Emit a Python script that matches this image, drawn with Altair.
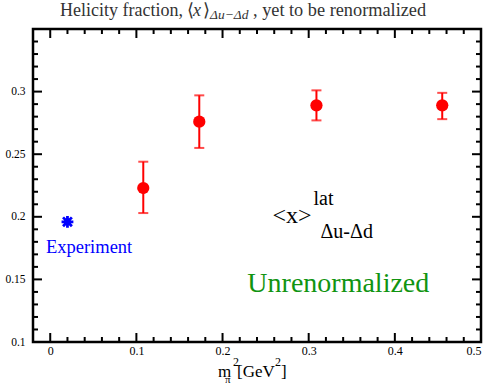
import altair as alt
import pandas as pd

# Lattice results: pion mass squared [GeV^2], central value and error-bar ends
m_pi_sq = [0.108, 0.173, 0.309, 0.455]
x_lat = [0.223, 0.276, 0.289, 0.289]
x_lo = [0.203, 0.255, 0.277, 0.278]
x_hi = [0.244, 0.297, 0.301, 0.299]

# Experimental value
exp_m_pi_sq = [0.02]
exp_x = [0.196]

# Axis ranges, labels and tick positions
x_domain = [-0.02, 0.5]
y_domain = [0.1, 0.35]
x_labels = [0, 0.1, 0.2, 0.3, 0.4, 0.5]
y_labels = [0.1, 0.15, 0.2, 0.25, 0.3]
x_major = [0, 0.1, 0.2, 0.3, 0.4, 0.5]
x_minor = [0.02, 0.04, 0.06, 0.08, 0.12, 0.14, 0.16, 0.18, 0.22, 0.24, 0.26,
           0.28, 0.32, 0.34, 0.36, 0.38, 0.42, 0.44, 0.46, 0.48]
y_major = [0.15, 0.2, 0.25, 0.3]
y_minor = [0.11, 0.12, 0.13, 0.14, 0.16, 0.17, 0.18, 0.19, 0.21, 0.22, 0.23,
           0.24, 0.26, 0.27, 0.28, 0.29, 0.31, 0.32, 0.33, 0.34]

W, H = 448, 313
SERIF = "Liberation Serif"

lat = pd.DataFrame({"m": m_pi_sq, "x": x_lat, "lo": x_lo, "hi": x_hi})
exp = pd.DataFrame({"m": exp_m_pi_sq, "x": exp_x})

xs = alt.Scale(domain=x_domain, nice=False, zero=False)
ys = alt.Scale(domain=y_domain, nice=False, zero=False)

x_axis = alt.Axis(values=x_labels, labelFontSize=12, labelPadding=3, title=None,
                  labelFont=SERIF, labelColor="black",
                  ticks=False, domain=False, grid=False,
                  labelExpr="datum.value == 0 ? '0' : format(datum.value, '.1~f')")
y_axis = alt.Axis(values=y_labels, labelFontSize=11.5, labelPadding=8, title=None,
                  labelFont=SERIF, labelColor="black",
                  ticks=False, domain=False, grid=False,
                  labelExpr="format(datum.value, '~g')")

err = alt.Chart(lat).mark_rule(color="red", strokeWidth=2).encode(
    x=alt.X("m:Q", scale=xs, axis=x_axis),
    y=alt.Y("lo:Q", scale=ys, axis=y_axis),
    y2="hi:Q")
cap_hi = alt.Chart(lat).mark_tick(color="red", orient="horizontal", size=10, thickness=2).encode(
    x=alt.X("m:Q", scale=xs), y=alt.Y("hi:Q", scale=ys))
cap_lo = alt.Chart(lat).mark_tick(color="red", orient="horizontal", size=10, thickness=2).encode(
    x=alt.X("m:Q", scale=xs), y=alt.Y("lo:Q", scale=ys))
pts = alt.Chart(lat).mark_circle(color="red", size=150, opacity=1).encode(
    x=alt.X("m:Q", scale=xs), y=alt.Y("x:Q", scale=ys))

star_path = "M0,-1L0,1M-1,0L1,0M-0.75,-0.75L0.75,0.75M-0.75,0.75L0.75,-0.75"
star = alt.Chart(exp).mark_point(shape=star_path, size=140, strokeWidth=2.8,
                                 filled=False, color="blue", opacity=1).encode(
    x=alt.X("m:Q", scale=xs), y=alt.Y("x:Q", scale=ys))


def ticks_x(vals, length, top):
    df = pd.DataFrame({"v": vals})
    y0, y1 = (0, length) if top else (H, H - length)
    return alt.Chart(df).mark_rule(color="black", strokeWidth=2).encode(
        x=alt.X("v:Q", scale=xs), y=alt.value(y0), y2=alt.value(y1))


def ticks_y(vals, length, right):
    df = pd.DataFrame({"v": vals})
    x0, x1 = (W, W - length) if right else (0, length)
    return alt.Chart(df).mark_rule(color="black", strokeWidth=2).encode(
        y=alt.Y("v:Q", scale=ys), x=alt.value(x0), x2=alt.value(x1))


tick_layers = [
    ticks_x(x_major, 9, False), ticks_x(x_minor, 5, False),
    ticks_x(x_major, 9, True), ticks_x(x_minor, 5, True),
    ticks_y(y_major, 9, False), ticks_y(y_minor, 5, False),
    ticks_y(y_major, 9, True), ticks_y(y_minor, 5, True),
]


def label_data(text, m, x, size, color="black", align="left", italic=False):
    df = pd.DataFrame({"m": [m], "x": [x], "t": [text]})
    kw = {"fontStyle": "italic"} if italic else {}
    return alt.Chart(df).mark_text(font=SERIF, fontSize=size, color=color, align=align,
                                   baseline="alphabetic", **kw).encode(
        x=alt.X("m:Q", scale=xs), y=alt.Y("x:Q", scale=ys), text="t:N")


def label_px(text, px, py, size, color="black", align="left", italic=False):
    df = pd.DataFrame({"t": [text]})
    kw = {"fontStyle": "italic"} if italic else {}
    return alt.Chart(df).mark_text(font=SERIF, fontSize=size, color=color, align=align,
                                   baseline="alphabetic", **kw).encode(
        x=alt.value(px), y=alt.value(py), text="t:N")


annotations = [
    label_data("Experiment", -0.005, 0.171, 18.5, color="blue"),
    label_data("<x>", 0.258, 0.195, 24),
    label_data("lat", 0.3056, 0.2093, 20),
    label_data("Δu-Δd", 0.3137, 0.1829, 20),
    label_data("Unrenormalized", 0.2288, 0.1399, 28, color="#119411"),
]

# x-axis title m_π^2 [GeV^2], built from pieces below the plot
axis_title = [
    label_px("m", 185, 348, 17),
    label_px("2", 200, 337, 12),
    label_px("π", 192, 354, 11),
    label_px("[GeV", 204, 348, 17),
    label_px("2", 242, 337, 12),
    label_px("]", 248, 348, 17),
]

# chart title with the subscripted moment
TGRAY = "#333333"
title = [
    label_px("Helicity fraction,", 27, -13, 18, color=TGRAY),
    label_px("⟨", 154, -13, 18, color=TGRAY),
    label_px("x", 160, -13, 18, color=TGRAY, italic=True),
    label_px("⟩", 170, -13, 18, color=TGRAY),
    label_px("Δu−Δd", 177, -10, 13.5, color=TGRAY, italic=True),
    label_px(", yet to be renormalized", 220, -13, 18.3, color=TGRAY),
]

chart = alt.layer(
    *tick_layers, err, cap_hi, cap_lo, pts, star, *annotations, *axis_title, *title
).properties(
    width=W, height=H,
    background="white",
    autosize=alt.AutoSizeParams(type="none"),
    padding={"left": 33, "top": 29, "right": 8, "bottom": 44},
).configure_view(
    stroke="black", strokeWidth=2.5
)

chart.save("out.html", embed_options={"renderer": "svg", "actions": False})
